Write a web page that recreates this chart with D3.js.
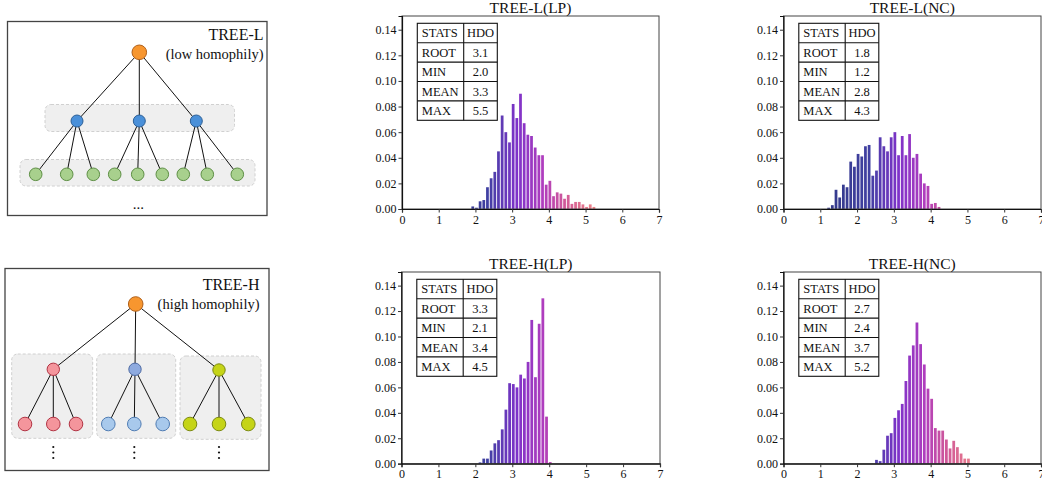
<!DOCTYPE html>
<html>
<head>
<meta charset="utf-8">
<script src="https://cdn.jsdelivr.net/npm/d3@7"></script>
<style>
  body { margin: 0; background: #fff; }
  svg { display: block; font-family: "Liberation Serif", "DejaVu Serif", serif; }
</style>
</head>
<body>
<div id="chart"></div>
<script>
var svgWidth = 1042;
var svgHeight = 484;

// histogram data: first bin of each panel, bin step 0.1, bar heights
var binStep = 0.1;
var binStarts = [1.9, 1.2, 2.1, 2.5];

var treeL_LP = [0.002, 0.001, 0.006, 0.007, 0.017, 0.024, 0.029, 0.045, 0.073, 0.060,
  0.052, 0.082, 0.071, 0.090, 0.067, 0.058, 0.057, 0.048, 0.042, 0.042,
  0.019, 0.022, 0.010, 0.013, 0.012, 0.008, 0.011, 0.004, 0.0055, 0.0055,
  0.0036, 0.0016, 0.0036, 0.0016];
var treeL_NC = [0.001, 0.003, 0.015, 0.009, 0.019, 0.017, 0.037, 0.033, 0.043, 0.041,
  0.049, 0.050, 0.026, 0.030, 0.056, 0.049, 0.045, 0.056, 0.060, 0.042,
  0.057, 0.042, 0.0585, 0.040, 0.043, 0.0276, 0.020, 0.018, 0.004, 0.0047, 0.0016];
var treeH_LP = [0.001, 0.004, 0.004, 0.0104, 0.016, 0.0185, 0.027, 0.0425, 0.0633, 0.0626,
  0.060, 0.070, 0.067, 0.080, 0.113, 0.068, 0.110, 0.130, 0.037, 0.0013];
var treeH_NC = [0.003, 0.002, 0.011, 0.022, 0.024, 0.036, 0.042, 0.047, 0.065, 0.085,
  0.093, 0.111, 0.094, 0.078, 0.059, 0.051, 0.028, 0.026, 0.026, 0.019,
  0.012, 0.018, 0.013, 0.008, 0.004, 0.004];

var titles = ["TREE-L(LP)", "TREE-L(NC)", "TREE-H(LP)", "TREE-H(NC)"];
var xTicks = [0, 1, 2, 3, 4, 5, 6, 7];
var yTicks = [0, 0.02, 0.04, 0.06, 0.08, 0.10, 0.12, 0.14];

// stats tables
var statHeader = ["STATS", "HDO"];
var statNames = ["ROOT", "MIN", "MEAN", "MAX"];
var statsL_LP = ["3.1", "2.0", "3.3", "5.5"];
var statsL_NC = ["1.8", "1.2", "2.8", "4.3"];
var statsH_LP = ["3.3", "2.1", "3.4", "4.5"];
var statsH_NC = ["2.7", "2.4", "3.7", "5.2"];

var svg = d3.select("#chart")
  .append("svg")
  .attr("width", svgWidth)
  .attr("height", svgHeight);

// bar colour by HDO value
var barColor = d3.scaleLinear()
  .domain([1.5, 2.3, 3.1, 3.8, 4.4, 5.2])
  .range(["#252a85", "#30309a", "#7321c4", "#a82cb8", "#cc4a90", "#ec7a80"])
  .clamp(true);

var panels = [
  { left: 402, top: 16, width: 257, height: 193, values: treeL_LP, start: binStarts[0], title: titles[0], stats: statsL_LP },
  { left: 783.5, top: 16, width: 257.5, height: 193, values: treeL_NC, start: binStarts[1], title: titles[1], stats: statsL_NC },
  { left: 401.5, top: 272, width: 258.5, height: 191.7, values: treeH_LP, start: binStarts[2], title: titles[2], stats: statsH_LP },
  { left: 783.5, top: 272, width: 257.5, height: 191.7, values: treeH_NC, start: binStarts[3], title: titles[3], stats: statsH_NC }
];

panels.forEach(drawHist);

function drawHist(p) {
  var g = svg.append("g")
    .attr("transform", `translate(${p.left}, ${p.top})`);

  var x = d3.scaleLinear().domain([0, 7]).range([0, p.width]);
  var y = d3.scaleLinear().domain([0, 0.1507]).range([p.height, 0]);

  var data = p.values.map((v, i) => ({ bin: +(p.start + i * binStep).toFixed(2), value: v }));

  // bars
  g.selectAll("rect.bar")
    .data(data)
    .enter()
    .append("rect")
    .attr("class", "bar")
    .attr("x", d => x(d.bin - 0.01))
    .attr("width", x(0.075) - x(0))
    .attr("y", d => y(d.value))
    .attr("height", d => y(0) - y(d.value))
    .attr("fill", d => barColor(d.bin))
    .attr("fill-opacity", 0.92);

  // frame
  g.append("rect")
    .attr("width", p.width)
    .attr("height", p.height)
    .attr("fill", "none")
    .attr("stroke", "#444")
    .attr("stroke-width", 1);

  var bottomAxis = d3.axisBottom(x).tickValues(xTicks).tickFormat(d3.format("d")).tickSize(3.5).tickPadding(2.5);
  var leftAxis = d3.axisLeft(y).tickValues(yTicks).tickFormat(d3.format(".2f")).tickSize(3.5).tickPadding(2);

  var xa = g.append("g")
    .attr("transform", `translate(0, ${p.height})`)
    .call(bottomAxis);
  var ya = g.append("g").call(leftAxis);

  [xa, ya].forEach(a => {
    a.select(".domain").attr("stroke", "#111").attr("stroke-width", 1.2);
    a.selectAll("text").attr("font-size", 12).attr("fill", "#111").attr("font-family", "Liberation Serif, serif");
    a.selectAll("line").attr("stroke", "#333");
  });

  // title
  g.append("text")
    .attr("x", p.width / 2)
    .attr("y", -3.5)
    .attr("text-anchor", "middle")
    .attr("font-size", 15.5)
    .attr("fill", "#111")
    .text(p.title);

  // stats table
  var tx = 15.3, ty = 7.3, c1 = 46.4, c2 = 33.6, rh = 19.4;
  var rows = [statHeader].concat(statNames.map((n, i) => [n, p.stats[i]]));
  var tg = g.append("g").attr("transform", `translate(${tx}, ${ty})`);

  tg.append("rect")
    .attr("width", c1 + c2)
    .attr("height", rh * rows.length)
    .attr("fill", "#fff")
    .attr("stroke", "#111")
    .attr("stroke-width", 1.1);

  tg.append("line")
    .attr("x1", c1).attr("x2", c1)
    .attr("y1", 0).attr("y2", rh * rows.length)
    .attr("stroke", "#111").attr("stroke-width", 1.1);

  tg.selectAll("line.row")
    .data(d3.range(1, rows.length))
    .enter()
    .append("line")
    .attr("class", "row")
    .attr("x1", 0).attr("x2", c1 + c2)
    .attr("y1", d => d * rh).attr("y2", d => d * rh)
    .attr("stroke", "#111").attr("stroke-width", 1.1);

  rows.forEach((r, i) => {
    tg.append("text")
      .attr("x", 4.5)
      .attr("y", i * rh + rh / 2 + 4.5)
      .attr("font-size", 12.5)
      .attr("fill", "#111")
      .text(r[0]);
    tg.append("text")
      .attr("x", c1 + c2 / 2)
      .attr("y", i * rh + rh / 2 + 4.5)
      .attr("text-anchor", "middle")
      .attr("font-size", 12.5)
      .attr("fill", "#111")
      .text(r[1]);
  });
}

// ---------- tree diagrams (illustration) ----------
function node(g, cx, cy, r, fill, stroke) {
  g.append("circle")
    .attr("cx", cx).attr("cy", cy).attr("r", r)
    .attr("fill", fill).attr("stroke", stroke).attr("stroke-width", 1);
}
function edge(g, a, b) {
  g.append("line")
    .attr("x1", a[0]).attr("y1", a[1]).attr("x2", b[0]).attr("y2", b[1])
    .attr("stroke", "#111").attr("stroke-width", 1);
}
function groupBox(g, x0, y0, x1, y1) {
  g.append("rect")
    .attr("x", x0).attr("y", y0)
    .attr("width", x1 - x0).attr("height", y1 - y0)
    .attr("rx", 6)
    .attr("fill", "#efefef")
    .attr("stroke", "#d0d0d0")
    .attr("stroke-dasharray", "3,2");
}

// TREE-L
var gL = svg.append("g");
gL.append("rect")
  .attr("x", 7.5).attr("y", 21.5).attr("width", 259.5).attr("height", 194)
  .attr("fill", "#fff").attr("stroke", "#444").attr("stroke-width", 1.3);

groupBox(gL, 45, 104.5, 234.5, 131.5);
groupBox(gL, 20, 159.5, 255, 186);

var rootL = [139.3, 52.3];
var midL = [[77, 121], [139.3, 121], [196.3, 121]];
var leafLx = [35.7, 66.7, 93.3, 114.7, 137.7, 162.3, 183.3, 207.3, 237.3];
var leafLy = 174.3;

midL.forEach(m => edge(gL, rootL, m));
leafLx.forEach((lx, i) => edge(gL, midL[Math.floor(i / 3)], [lx, leafLy]));
midL.forEach(m => node(gL, m[0], m[1], 6, "#4a90d9", "#2c5f96"));
leafLx.forEach(lx => node(gL, lx, leafLy, 6.3, "#a8d08d", "#5e8f45"));
node(gL, rootL[0], rootL[1], 7.3, "#f7962f", "#b0601a");

gL.append("text").attr("x", 263.5).attr("y", 40).attr("text-anchor", "end")
  .attr("font-size", 16).attr("fill", "#111").text("TREE-L");
gL.append("text").attr("x", 263.5).attr("y", 59).attr("text-anchor", "end")
  .attr("font-size", 14.5).attr("fill", "#111").text("(low homophily)");
gL.append("text").attr("x", 138.3).attr("y", 208.5).attr("text-anchor", "middle")
  .attr("font-size", 15).attr("fill", "#111").text("...");

// TREE-H
var gH = svg.append("g");
gH.append("rect")
  .attr("x", 5).attr("y", 268.5).attr("width", 264).attr("height", 202)
  .attr("fill", "#fff").attr("stroke", "#444").attr("stroke-width", 1.3);

groupBox(gH, 11.7, 354, 92.7, 438.3);
groupBox(gH, 96.7, 354, 175.7, 438.3);
groupBox(gH, 180, 356, 261, 439.3);

var rootH = [135.7, 304];
var midH = [[53.3, 369.3], [135, 369.3], [219, 370]];
var leafHx = [25, 53.3, 76, 108.3, 134.3, 162.7, 190, 219, 248.3];
var leafHy = 424;
var midFill = ["#f4959c", "#8eaadf", "#c5d417"];
var midStroke = ["#b23444", "#4d6aa3", "#7c8a12"];
var leafFill = ["#f4959c", "#a8c9ec", "#c5d417"];
var leafStroke = ["#b23444", "#4f7cb3", "#7c8a12"];

midH.forEach(m => edge(gH, rootH, m));
leafHx.forEach((lx, i) => edge(gH, midH[Math.floor(i / 3)], [lx, leafHy]));
midH.forEach((m, i) => node(gH, m[0], m[1], 6.2, midFill[i], midStroke[i]));
leafHx.forEach((lx, i) => node(gH, lx, leafHy, 6.8, leafFill[Math.floor(i / 3)], leafStroke[Math.floor(i / 3)]));
node(gH, rootH[0], rootH[1], 7.3, "#f7962f", "#b0601a");

gH.append("text").attr("x", 259.5).attr("y", 290).attr("text-anchor", "end")
  .attr("font-size", 16).attr("fill", "#111").text("TREE-H");
gH.append("text").attr("x", 259.5).attr("y", 308.5).attr("text-anchor", "end")
  .attr("font-size", 14.5).attr("fill", "#111").text("(high homophily)");

[53.3, 134.3, 219].forEach(vx => {
  [447, 452.5, 458].forEach(vy => {
    gH.append("circle").attr("cx", vx).attr("cy", vy).attr("r", 1.1).attr("fill", "#111");
  });
});
</script>
</body>
</html>
